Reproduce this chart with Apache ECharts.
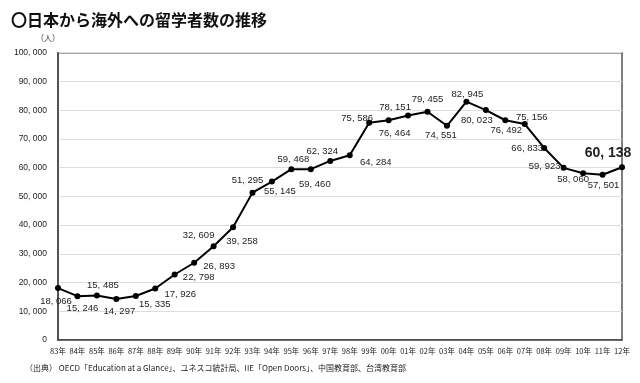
<!DOCTYPE html>
<html><head><meta charset="utf-8">
<script src="https://cdn.jsdelivr.net/npm/echarts@6/dist/echarts.min.js"></script>
<style>html,body{margin:0;padding:0;background:#fff}#c{width:640px;height:383px}</style>
</head><body><div id="c"></div>
<script>
const titleText = '〇日本から海外への留学者数の推移';
const unitText = '（人）';
const sourceText = '（出典） OECD「Education at a Glance」、ユネスコ統計局、IIE「Open Doors」、中国教育部、台湾教育部';
const years = ['83年','84年','85年','86年','87年','88年','89年','90年','91年','92年','93年','94年','95年','96年','97年','98年','99年','00年','01年','02年','03年','04年','05年','06年','07年','08年','09年','10年','11年','12年'];
const students = [18066,15246,15485,14297,15335,17926,22798,26893,32609,39258,51295,55145,59468,59460,62324,64284,75586,76464,78151,79455,74551,82945,80023,76492,75156,66833,59923,58060,57501,60138];
const yTicks = [0,10000,20000,30000,40000,50000,60000,70000,80000,90000,100000];
// label offsets (styling only)
const labelOffsets = [[-2,13],[5,12],[6,-10],[3,12],[19,8],[25,6],[24,3],[25,4],[-15,-11],[9,14],
  [-5,-12],[8,10],[2,-10],[4,15],[-8,-10],[26,7],[-12,-4],[6,13],[-13,-8],[0,-12],
  [-6,10],[1,-7],[-9,10],[1,10],[7,-7],[-17,0],[-19,-1],[-10,6],[1,11],[-14,-14]];

function fmt(v){ const s = String(v); return s.length>3 ? s.slice(0,-3)+', '+s.slice(-3) : s; }

const data = students.map((v,i)=>{
  const last = i===students.length-1;
  return {value:v, label:{show:true, position:'inside', offset:labelOffsets[i],
    fontSize:last?14:9.5, fontWeight:last?'bold':'normal', color:'#222',
    fontFamily:'Liberation Sans, Arial, sans-serif', formatter:(p)=>fmt(p.value)}};
});

const chart = echarts.init(document.getElementById('c'));
chart.setOption({
  animation:false,
  backgroundColor:'#fff',
  title:{text:titleText, left:6, top:7, textStyle:{fontSize:16, fontWeight:'bold', color:'#111', fontFamily:'Noto Sans CJK JP'}},
  grid:{left:58, right:18, top:52.7, bottom:43, show:true, borderColor:'#555', borderWidth:1.5},
  xAxis:{type:'category', data:years, boundaryGap:false,
    axisLine:{show:true, lineStyle:{color:'#444', width:1.5}}, axisTick:{show:false},
    axisLabel:{fontSize:7.5, color:'#222', margin:7, interval:0, fontFamily:'Noto Sans CJK JP'}},
  yAxis:{type:'value', min:yTicks[0], max:yTicks[yTicks.length-1], interval:10000,
    axisLine:{show:true, lineStyle:{color:'#444', width:1.5}}, axisTick:{show:false},
    splitLine:{lineStyle:{color:'#ddd', width:1}},
    axisLabel:{fontSize:8.5, color:'#222', margin:11, fontFamily:'Liberation Sans, Arial, sans-serif', formatter:(v)=>fmt(v)}},
  graphic:[
    {type:'text', left:36, top:34, style:{text:unitText, fontSize:8, fill:'#333', fontFamily:'Noto Sans CJK JP'}},
    {type:'text', left:25, top:364, style:{text:sourceText, fontSize:8, fill:'#222', fontFamily:'Noto Sans CJK JP'}}
  ],
  series:[{type:'line', data:data, symbol:'circle', symbolSize:6,
    lineStyle:{color:'#000', width:2}, itemStyle:{color:'#000'}}]
});
</script></body></html>
